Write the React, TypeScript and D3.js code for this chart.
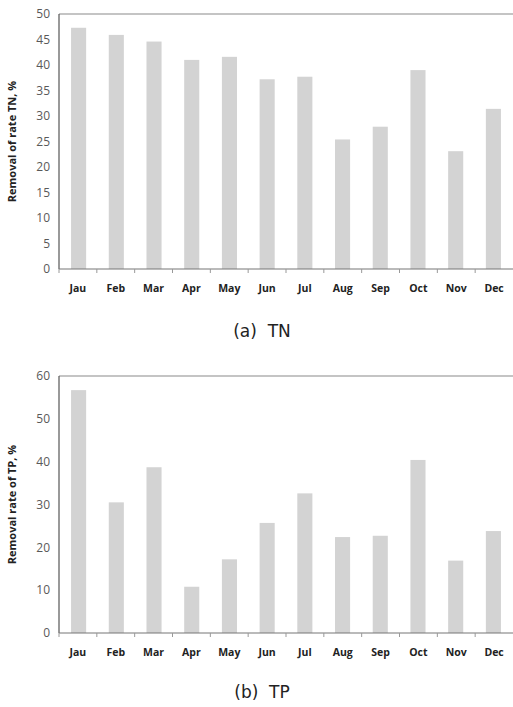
import { useEffect, useRef } from "react";
import * as d3 from "d3";

const months = ["Jau", "Feb", "Mar", "Apr", "May", "Jun", "Jul", "Aug", "Sep", "Oct", "Nov", "Dec"];
const tnValues = [47.3, 45.9, 44.6, 41.0, 41.6, 37.2, 37.7, 25.4, 27.9, 39.0, 23.1, 31.4];
const tpValues = [56.7, 30.5, 38.7, 10.8, 17.2, 25.7, 32.6, 22.4, 22.7, 40.4, 16.9, 23.8];
const tnTicks = [0, 5, 10, 15, 20, 25, 30, 35, 40, 45, 50];
const tpTicks = [0, 10, 20, 30, 40, 50, 60];

const W = 513;
const H = 707;

const App = () => {
  const svgRef = useRef<SVGSVGElement>(null);

  useEffect(() => {
    const svg = d3.select(svgRef.current);
    svg.selectAll("*").remove();

    const drawPanel = (
      values: number[],
      ticks: number[],
      top: number,
      bottom: number,
      label: string,
      caption: string,
      captionY: number
    ) => {
      const left = 59;
      const right = 513;
      const x = d3.scaleBand().domain(months).range([left, right]).paddingInner(0.6).paddingOuter(0.32);
      const xTicks = d3.scaleBand().domain(months).range([left, right]);
      const y = d3
        .scaleLinear()
        .domain([0, ticks[ticks.length - 1]])
        .range([bottom, top]);

      const g = svg.append("g");

      g.selectAll("rect")
        .data(values)
        .enter()
        .append("rect")
        .attr("x", (d, i) => x(months[i])!)
        .attr("y", (d) => y(d))
        .attr("width", x.bandwidth())
        .attr("height", (d) => y(0) - y(d))
        .attr("fill", "#d3d3d3");

      // top border
      g.append("line")
        .attr("x1", left)
        .attr("x2", right)
        .attr("y1", top)
        .attr("y2", top)
        .attr("stroke", "#8a8a8a")
        .attr("stroke-width", 1.2);

      // left axis
      g.append("line")
        .attr("x1", left)
        .attr("x2", left)
        .attr("y1", top)
        .attr("y2", bottom)
        .attr("stroke", "#555")
        .attr("stroke-width", 1.2);

      // bottom axis
      g.append("line")
        .attr("x1", left)
        .attr("x2", right)
        .attr("y1", bottom)
        .attr("y2", bottom)
        .attr("stroke", "#777")
        .attr("stroke-width", 1.2);

      g.selectAll(".xt")
        .data(months)
        .enter()
        .append("line")
        .attr("x1", (d) => xTicks(d)!)
        .attr("x2", (d) => xTicks(d)!)
        .attr("y1", bottom)
        .attr("y2", bottom + 4)
        .attr("stroke", "#999");

      g.selectAll(".yl")
        .data(ticks)
        .enter()
        .append("text")
        .attr("x", left - 9)
        .attr("y", (d) => y(d))
        .attr("dy", "0.35em")
        .attr("text-anchor", "end")
        .attr("font-family", "Open Sans, sans-serif")
        .attr("font-size", 12)
        .attr("fill", "#595959")
        .text((d) => d);

      g.selectAll(".xl")
        .data(months)
        .enter()
        .append("text")
        .attr("x", (d) => xTicks(d)! + xTicks.bandwidth() / 2)
        .attr("y", bottom + 23)
        .attr("text-anchor", "middle")
        .attr("font-family", "Open Sans, sans-serif")
        .attr("font-weight", "bold")
        .attr("font-size", 10.5)
        .attr("fill", "#222")
        .text((d) => d);

      g.append("text")
        .attr("transform", `translate(16, ${(top + bottom) / 2}) rotate(-90)`)
        .attr("text-anchor", "middle")
        .attr("font-family", "Open Sans, sans-serif")
        .attr("font-weight", "bold")
        .attr("font-size", 11)
        .attr("fill", "#222")
        .text(label);

      g.append("text")
        .attr("x", 262)
        .attr("y", captionY)
        .attr("text-anchor", "middle")
        .attr("font-family", "DejaVu Sans, sans-serif")
        .attr("font-size", 17)
        .attr("fill", "#222")
        .attr("xml:space", "preserve")
        .text(caption);
    };

    drawPanel(tnValues, tnTicks, 14, 269, "Removal of rate TN, %", "(a)  TN", 337);
    drawPanel(tpValues, tpTicks, 376, 633, "Removal rate of TP, %", "(b)  TP", 698);
  }, []);

  return (
    <svg
      ref={svgRef}
      width={W}
      height={H}
      style={{ position: "absolute", left: 0, top: 0, background: "#fff" }}
    ></svg>
  );
};

export default App;
